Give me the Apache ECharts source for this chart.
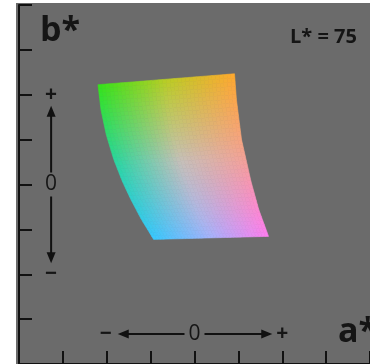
<!DOCTYPE html>
<html><head><meta charset="utf-8">
<script src="https://cdn.jsdelivr.net/npm/echarts@6/dist/echarts.min.js"></script>
<style>html,body{margin:0;padding:0;background:#fff}#c{width:370px;height:364px}</style>
</head><body><div id="c"></div>
<script>
// Axis scale (a*, b* units)
const axisMin = -100, axisMax = 100, axisStep = 25;
// Gamut outline at L* = 75, listed top to bottom
const leftEdgeA  = [-55.0, -53.3, -50.3, -46.0, -41.1, -36.3, -30.3, -23.3];
const leftEdgeB  = [ 55.6,  41.7,  27.8,  13.9,   1.7,  -8.3, -19.4, -30.6];
const rightEdgeA = [ 22.8,  23.9,  26.8,  32.2,  36.6,  42.2];
const rightEdgeB = [ 61.7,  47.2,  25.0,   1.7, -13.9, -28.9];
// Direction arrows
const arrowMarks  = [-50, 0, 50];
const arrowLabelsH = ['\u2212', '0', '+'];
const arrowLabelsV = ['\u2212', '0', '+'];
const hArrowB = -83.3;
const vArrowA = -81.7;
const axisNameA = 'a*', axisNameB = 'b*';
const lightnessLabel = 'L* = 75';

// colour control grid (rows top->bottom, cols left->right)
const colorGrid = [
  [[50,228,25],[185,205,35],[255,168,45]],
  [[40,214,165],[198,192,185],[244,162,148]],
  [[55,200,255],[165,178,252],[255,125,240]]
];

function colorAt(s,t){
  const u = s*2, v = t*2;
  const i = Math.min(Math.floor(u),1), j = Math.min(Math.floor(v),1);
  const fu = u-i, fv = v-j;
  const c = [0,0,0];
  for (let k=0;k<3;k++){
    const top = colorGrid[j][i][k]*(1-fu)+colorGrid[j][i+1][k]*fu;
    const bot = colorGrid[j+1][i][k]*(1-fu)+colorGrid[j+1][i+1][k]*fu;
    c[k] = Math.round(top*(1-fv)+bot*fv);
  }
  return 'rgb('+c.join(',')+')';
}

function edgePixels(A,B,api){ return A.map((a,i)=>api.coord([a,B[i]])); }
function along(pts,t){
  const L=[0];
  for(let i=1;i<pts.length;i++) L.push(L[i-1]+Math.hypot(pts[i][0]-pts[i-1][0],pts[i][1]-pts[i-1][1]));
  const target=t*L[L.length-1];
  let i=1; while(i<pts.length-1 && L[i]<target) i++;
  const f=(target-L[i-1])/((L[i]-L[i-1])||1);
  return [pts[i-1][0]+(pts[i][0]-pts[i-1][0])*f, pts[i-1][1]+(pts[i][1]-pts[i-1][1])*f];
}

function renderGamut(params, api){
  const lp = edgePixels(leftEdgeA,leftEdgeB,api);
  const rp = edgePixels(rightEdgeA,rightEdgeB,api);
  const N=36, M=40;
  const P=(s,t)=>{const l=along(lp,t), r=along(rp,t); return [l[0]+(r[0]-l[0])*s, l[1]+(r[1]-l[1])*s];};
  const children=[];
  for(let j=0;j<M;j++){
    for(let i=0;i<N;i++){
      const s0=i/N,s1=(i+1)/N,t0=j/M,t1=(j+1)/M;
      const col=colorAt((s0+s1)/2,(t0+t1)/2);
      children.push({type:'polygon',shape:{points:[P(s0,t0),P(s1,t0),P(s1,t1),P(s0,t1)]},
        style:{fill:col,stroke:col,lineWidth:0.6}});
    }
  }
  return {type:'group',children};
}

function arrowHead(tip, dir, len, half){
  const bx=tip[0]-dir[0]*len, by=tip[1]-dir[1]*len;
  return {type:'polygon',shape:{points:[tip,[bx-dir[1]*half,by+dir[0]*half],[bx+dir[1]*half,by-dir[0]*half]]},style:{fill:'#111'}};
}
function txt(text,p,font){
  return {type:'text',x:p[0],y:p[1],style:{text,font:font+' "Open Sans", sans-serif',fill:'#151515',
    align:'center',verticalAlign:'middle',textAlign:'center',textVerticalAlign:'middle'}};
}
function renderArrows(params, api){
  const ch=[];
  const lineStyle={stroke:'#111',lineWidth:2};
  const hm=api.coord([arrowMarks[0],hArrowB]), h0=api.coord([arrowMarks[1],hArrowB]), hp=api.coord([arrowMarks[2],hArrowB]);
  ch.push({type:'line',shape:{x1:h0[0]+10,y1:h0[1],x2:hp[0]-16,y2:hp[1]},style:lineStyle});
  ch.push(arrowHead([hp[0]-10,hp[1]],[1,0],11,4.5));
  ch.push({type:'line',shape:{x1:h0[0]-10,y1:h0[1],x2:hm[0]+16,y2:hm[1]},style:lineStyle});
  ch.push(arrowHead([hm[0]+11,hm[1]],[-1,0],11,4.5));
  ch.push(txt(arrowLabelsH[0],[hm[0]-1,hm[1]],'bold 21px'));
  ch.push(txt(arrowLabelsH[1],[h0[0],h0[1]],'21px'));
  ch.push(txt(arrowLabelsH[2],[hp[0],hp[1]],'bold 21px'));
  const vm=api.coord([vArrowA,arrowMarks[0]]), v0=api.coord([vArrowA,arrowMarks[1]]), vp=api.coord([vArrowA,arrowMarks[2]]);
  ch.push({type:'line',shape:{x1:v0[0],y1:v0[1]-12,x2:vp[0],y2:vp[1]+18},style:lineStyle});
  ch.push(arrowHead([vp[0],vp[1]+11],[0,-1],11,4.5));
  ch.push({type:'line',shape:{x1:v0[0],y1:v0[1]+12,x2:vm[0],y2:vm[1]-18},style:lineStyle});
  ch.push(arrowHead([vm[0],vm[1]-11],[0,1],11,4.5));
  ch.push(txt(arrowLabelsV[0],[vm[0],vm[1]],'bold 21px'));
  ch.push(txt(arrowLabelsV[1],[v0[0],v0[1]],'21px'));
  ch.push(txt(arrowLabelsV[2],[vp[0],vp[1]],'bold 21px'));
  return {type:'group',children:ch};
}

const axisCommon = {
  type:'value', min:axisMin, max:axisMax, interval:axisStep,
  axisLine:{show:true,onZero:false,lineStyle:{color:'#111',width:2}},
  axisTick:{show:true,inside:true,length:13,lineStyle:{color:'#111',width:2}},
  axisLabel:{show:false}, splitLine:{show:false}
};

const chart = echarts.init(document.getElementById('c'));
chart.setOption({
  animation:false,
  backgroundColor:'#ffffff',
  grid:{left:19,top:5,width:360,height:360,show:true,backgroundColor:'#6b6b6b',borderWidth:0},
  xAxis:Object.assign({},axisCommon),
  yAxis:Object.assign({},axisCommon),
  graphic:[
    {type:'rect',z:-100,shape:{x:16,y:3,width:360,height:370},style:{fill:'#6b6b6b'}},
    {type:'text',x:40,y:31,z:100,style:{text:axisNameB,font:'bold 34px "Open Sans", sans-serif',fill:'#151515',verticalAlign:'middle',textVerticalAlign:'middle'}},
    {type:'text',x:338,y:332,z:100,style:{text:axisNameA,font:'bold 34px "Open Sans", sans-serif',fill:'#151515',verticalAlign:'middle',textVerticalAlign:'middle'}},
    {type:'text',x:290,y:37,z:100,style:{text:lightnessLabel,font:'bold 20px "Open Sans", sans-serif',fill:'#151515',verticalAlign:'middle',textVerticalAlign:'middle'}}
  ],
  series:[
    {type:'custom',data:[[0,0]],renderItem:renderGamut,silent:true,clip:false,z:1},
    {type:'custom',data:[[0,0]],renderItem:renderArrows,silent:true,clip:false,z:3}
  ]
});
</script></body></html>
